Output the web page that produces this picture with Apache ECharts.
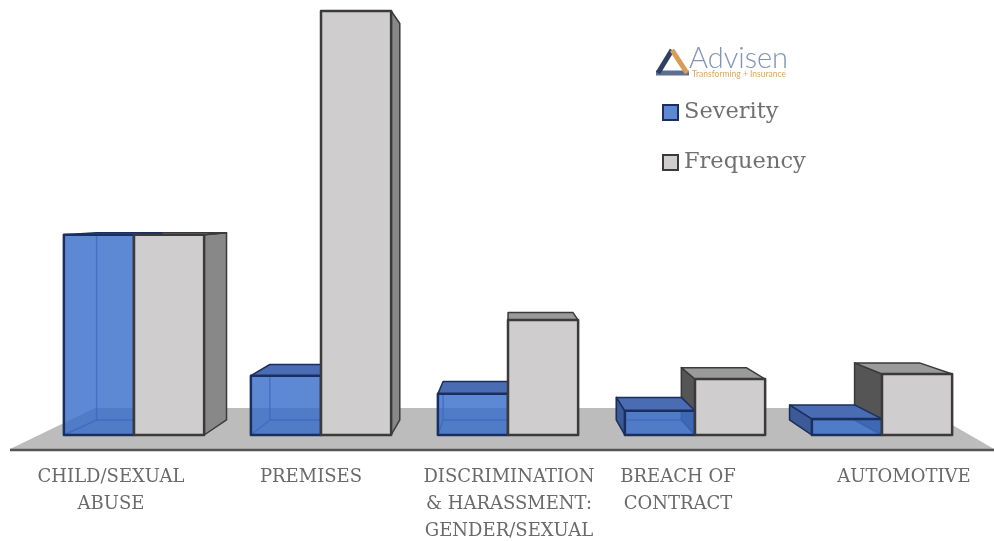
<!DOCTYPE html>
<html><head><meta charset="utf-8">
<style>html,body{margin:0;padding:0;background:#fff}#c{width:994px;height:541px}</style>
<script src="https://cdn.jsdelivr.net/npm/echarts@6/dist/echarts.min.js"></script>
</head><body><div id="c"></div>
<script>
const categories = ['CHILD/SEXUAL\nABUSE','PREMISES','DISCRIMINATION\n& HARASSMENT:\nGENDER/SEXUAL','BREACH OF\nCONTRACT','AUTOMOTIVE'];
const severity = [47.2, 14, 9.7, 5.7, 3.8];
const frequency = [47.2, 100, 27.1, 13.2, 14.4];

const labelShift = [-23, -10, 1, -17, 22];
const VX = 509, SX = 0.9265, VY = 204, SY = 0.935;
const back = p => [VX + (p[0]-VX)*SX, VY + (p[1]-VY)*SY];

const BLUE = {front:'rgba(55,109,202,0.81)', top:'#4a6cb2', side:'#3c5a98', edge:'#1b2f5e', inner:'rgba(38,68,130,0.65)'};
const GRAY = {front:'#cfcdce', top:'#9a9a9a', sideL:'#555555', sideR:'#888888', edge:'#3a3a3a'};

function box(params, api, isBlue) {
  const c = api.coord([api.value(0), api.value(1)]);
  const base = api.coord([api.value(0), 0]);
  const w = api.size([1, 0])[0] * 0.375;
  const x0 = isBlue ? c[0]-w : c[0], x1 = isBlue ? c[0] : c[0]+w;
  const y0 = c[1], y1 = base[1];
  const fTL=[x0,y0], fTR=[x1,y0], fBL=[x0,y1], fBR=[x1,y1];
  const bTL=back(fTL), bTR=back(fTR), bBL=back(fBL), bBR=back(fBR);
  const pal = isBlue ? BLUE : GRAY;
  const out = [];
  const poly = (pts, fill, z2, stroke, lw) => out.push({type:'polygon', z2,
    shape:{points:pts}, style:{fill, stroke:stroke||pal.edge, lineWidth:lw==null?1.5:lw, lineJoin:'round'}});
  const line = (a, b, z2) => out.push({type:'line', z2,
    shape:{x1:a[0],y1:a[1],x2:b[0],y2:b[1]}, style:{stroke:pal.inner, lineWidth:1.5}});
  const zBase = isBlue ? 20 : 10;
  if (isBlue) {
    line(bTL, bBL, zBase); line(bBL, bBR, zBase); line(bBL, fBL, zBase);
  }
  if (bBL[0] < x0) poly([fTL,bTL,bBL,fBL], isBlue?pal.side:pal.sideL, zBase+1);
  if (bTR[0] > x1) poly([fTR,bTR,bBR,fBR], isBlue?pal.side:pal.sideR, zBase+1);
  if (bTL[1] < y0) poly([fTL,fTR,bTR,bTL], pal.top, zBase+2);
  poly([fTL,fTR,fBR,fBL], pal.front, isBlue ? zBase+3 : 30, pal.edge, 2.5);
  return {type:'group', children:out};
}

const labelRich = {};
labelShift.forEach((s,i)=>{
  labelRich['l'+i] = {fontFamily:'DejaVu Serif', fontSize:18, color:'#6a6a6a', lineHeight:27,
    padding: s<0 ? [0,-2*s,0,0] : [0,0,0,2*s]};
});

const chart = echarts.init(document.getElementById('c'), null, {renderer:'canvas'});
chart.setOption({
  animation:false,
  backgroundColor:'#fff',
  grid:{left:40.5, width:935, top:11, height:424, containLabel:false},
  xAxis:{type:'category', data:categories,
    axisLine:{show:false}, axisTick:{show:false}, splitLine:{show:false},
    axisLabel:{interval:0, margin:29, verticalAlign:'top', rich:labelRich, hideOverlap:false,
      formatter:(v,i)=>v.split('\n').map(t=>`{l${i}|${t}}`).join('\n')}},
  yAxis:{type:'value', min:0, max:100, show:false},
  legend:{orient:'vertical', left:662, top:100, padding:0, itemWidth:15, itemHeight:15, itemGap:25, align:'left',
    icon:'rect', selectedMode:false,
    textStyle:{fontFamily:'DejaVu Serif', fontSize:22.5, color:'#707070', padding:[0,0,0,1], lineHeight:25},
    data:[
      {name:'Severity', itemStyle:{color:'#5c88d4', borderColor:'#1b2f5e', borderWidth:2}},
      {name:'Frequency', itemStyle:{color:'#cfcdce', borderColor:'#3a3a3a', borderWidth:2}}
    ]},
  graphic:{elements:[
    {type:'polygon', z:0, shape:{points:[[10,449],[95,408],[923,408],[994,449]]}, style:{fill:'#bcbcbc'}},
    {type:'line', z:0, shape:{x1:10,y1:450,x2:994,y2:450}, style:{stroke:'#555',lineWidth:2.5}},
    {type:'line', z:0, shape:{x1:656,y1:73,x2:689,y2:73}, style:{stroke:'#5d6f90',lineWidth:5}},
    {type:'line', z:0, shape:{x1:658,y1:73,x2:672,y2:50}, style:{stroke:'#2f3f66',lineWidth:5}},
    {type:'line', z:0, shape:{x1:672,y1:50,x2:687,y2:73}, style:{stroke:'#d79c55',lineWidth:5}},
    {type:'text', z:0, left:689, top:44, style:{text:'Advisen', font:'300 29px Lato', fill:'#8093b8'}},
    {type:'text', z:0, left:692, top:70, style:{text:'Transforming + Insurance', font:'8.5px Lato', fill:'#e0a45e'}}
  ]},
  series:[
    {name:'Severity', type:'custom', coordinateSystem:'cartesian2d', encode:{x:0,y:1}, clip:false,
      itemStyle:{color:'#5c88d4'},
      data:severity.map((v,i)=>[i,v]), renderItem:(p,a)=>box(p,a,true)},
    {name:'Frequency', type:'custom', coordinateSystem:'cartesian2d', encode:{x:0,y:1}, clip:false,
      itemStyle:{color:'#cfcdce'},
      data:frequency.map((v,i)=>[i,v]), renderItem:(p,a)=>box(p,a,false)}
  ]
});
</script></body></html>
